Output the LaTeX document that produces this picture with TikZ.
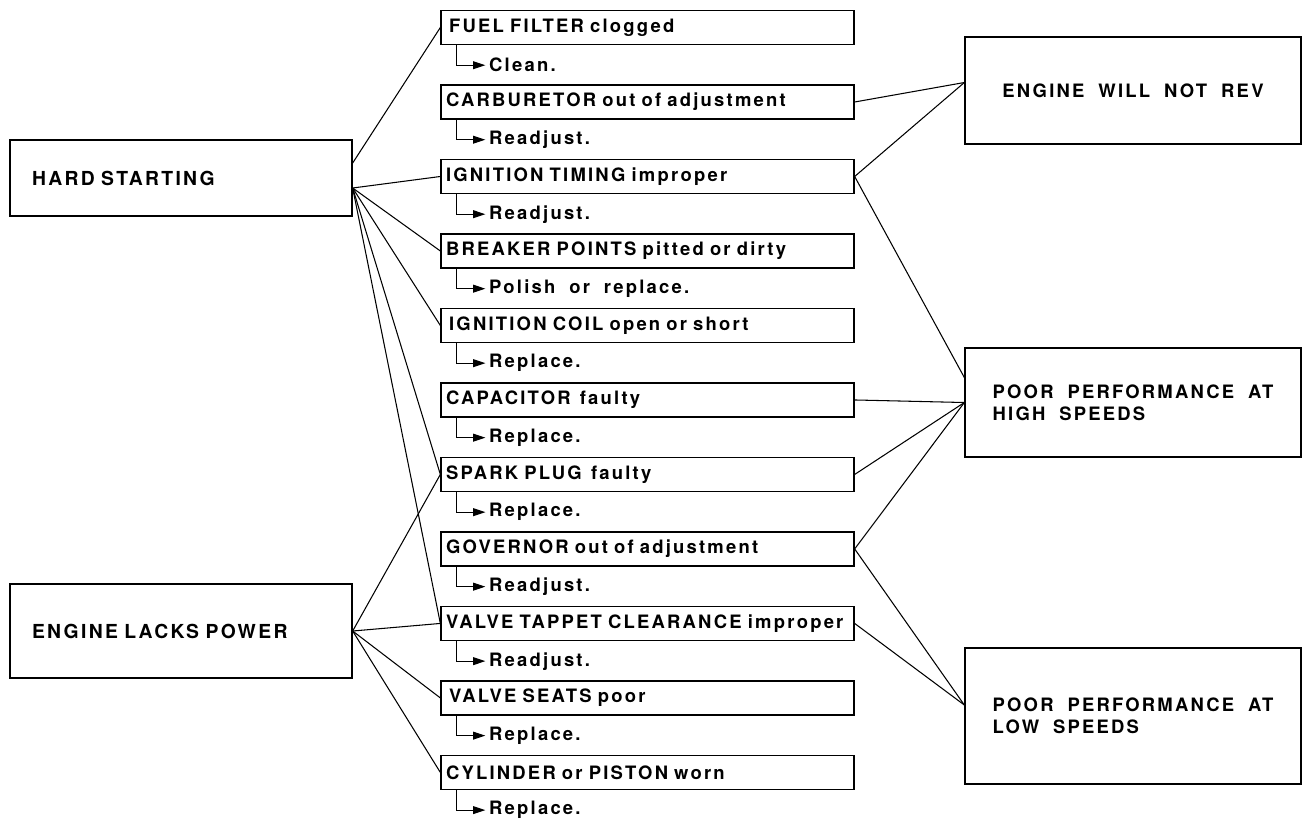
\documentclass[tikz,border=0pt]{standalone}
\usepackage{fontspec}
\setmainfont{TeX Gyre Heros}[LetterSpace=12,WordSpace=1.9]
\usetikzlibrary{arrows.meta,positioning}
\tikzset{
  symptom/.style={draw, line width=0.8pt, inner xsep=0.44cm, text width=5.96cm, align=left, font=\fontsize{11}{13}\selectfont\bfseries},
  fault/.style={draw, line width=0.8pt, minimum width=8.26cm, minimum height=0.68cm, inner xsep=0.1cm, inner ysep=0pt, text width=8.06cm, align=left, font=\fontsize{10.5}{12}\selectfont\bfseries},
  effect/.style={draw, line width=0.8pt, minimum width=6.72cm, align=left, font=\fontsize{10.5}{12.5}\selectfont\bfseries},
  fix/.style={inner xsep=2pt, inner ysep=1pt, font=\fontsize{10.5}{12}\selectfont\bfseries},
  fixarr/.style={line width=0.6pt, -{Triangle[length=7pt,width=4.5pt]}},
  link/.style={line width=0.6pt}
}

\begin{document}
\begin{tikzpicture}[x=0.02cm, y=-0.02cm, node distance=0.782cm]
\useasboundingbox (0,0) rectangle (1307,823);

% complaints
\node[symptom, minimum height=1.52cm] (hard) at (181,178) {HARD STARTING};
\node[symptom, minimum height=1.88cm] (lacks) at (181,631) {ENGINE LACKS POWER};

% causes
\node[fault] (filter) at (647.5,27.5) {\,FUEL FILTER clogged};
\node[fault, below=of filter] (carb) {CARBURETOR out of adjustment};
\node[fault, below=of carb] (timing) {IGNITION TIMING improper};
\node[fault, below=of timing] (points) {BREAKER POINTS pitted or dirty};
\node[fault, below=of points] (coil) {\,IGNITION COIL open or short};
\node[fault, below=of coil] (capac) {CAPACITOR\, faulty};
\node[fault, below=of capac] (plug) {SPARK PLUG\, faulty};
\node[fault, below=of plug] (gov) {GOVERNOR out of adjustment};
\node[fault, below=of gov] (tappet) {VALVE TAPPET CLEARANCE improper};
\node[fault, below=of tappet] (seats) {\,VALVE SEATS poor};
\node[fault, below=of seats] (cyl) {CYLINDER or PISTON worn};

% remedies
\node[fix, anchor=west] (filterfix) at ([shift={(45,20)}]filter.south west) {Clean.};
\node[fix, anchor=west] (carbfix) at ([shift={(45,20)}]carb.south west) {Readjust.};
\node[fix, anchor=west] (timingfix) at ([shift={(45,20)}]timing.south west) {Readjust.};
\node[fix, anchor=west] (pointsfix) at ([shift={(45,20)}]points.south west) {Polish or replace.};
\node[fix, anchor=west] (coilfix) at ([shift={(45,20)}]coil.south west) {Replace.};
\node[fix, anchor=west] (capacfix) at ([shift={(45,20)}]capac.south west) {Replace.};
\node[fix, anchor=west] (plugfix) at ([shift={(45,20)}]plug.south west) {Replace.};
\node[fix, anchor=west] (govfix) at ([shift={(45,20)}]gov.south west) {Readjust.};
\node[fix, anchor=west] (tappetfix) at ([shift={(45,20)}]tappet.south west) {Readjust.};
\node[fix, anchor=west] (seatsfix) at ([shift={(45,20)}]seats.south west) {Replace.};
\node[fix, anchor=west] (cylfix) at ([shift={(45,20)}]cyl.south west) {Replace.};

\draw[fixarr] ([xshift=0.32cm]filter.south west) |- (filterfix.west);
\draw[fixarr] ([xshift=0.32cm]carb.south west) |- (carbfix.west);
\draw[fixarr] ([xshift=0.32cm]timing.south west) |- (timingfix.west);
\draw[fixarr] ([xshift=0.32cm]points.south west) |- (pointsfix.west);
\draw[fixarr] ([xshift=0.32cm]coil.south west) |- (coilfix.west);
\draw[fixarr] ([xshift=0.32cm]capac.south west) |- (capacfix.west);
\draw[fixarr] ([xshift=0.32cm]plug.south west) |- (plugfix.west);
\draw[fixarr] ([xshift=0.32cm]gov.south west) |- (govfix.west);
\draw[fixarr] ([xshift=0.32cm]tappet.south west) |- (tappetfix.west);
\draw[fixarr] ([xshift=0.32cm]seats.south west) |- (seatsfix.west);
\draw[fixarr] ([xshift=0.32cm]cyl.south west) |- (cylfix.west);

% results
\node[effect, minimum height=2.14cm] (norev) at (1133,90.5) {ENGINE WILL NOT REV};
\node[effect, minimum height=2.18cm] (high) at (1133,402.5) {POOR PERFORMANCE AT\\HIGH SPEEDS};
\node[effect, minimum height=2.72cm] (low) at (1133,716) {POOR PERFORMANCE AT\\LOW SPEEDS};

% hubs
\coordinate (hardtop) at ([yshift=0.3cm]hard.east);
\coordinate (hardhub) at ([yshift=-0.2cm]hard.east);
\coordinate (norevin) at ([yshift=0.16cm]norev.west);
\coordinate (highin) at ([yshift=0.5cm]high.west);
\coordinate (lowin) at ([yshift=0.22cm]low.west);

\draw[link] (hardtop) -- (filter.west);
\draw[link] (hardhub) -- (timing.west);
\draw[link] (hardhub) -- (points.west);
\draw[link] (hardhub) -- (coil.west);
\draw[link] (hardhub) -- (plug.west);
\draw[link] (hardhub) -- (tappet.west);

\draw[link] (lacks.east) -- (plug.west);
\draw[link] (lacks.east) -- (tappet.west);
\draw[link] (lacks.east) -- (seats.west);
\draw[link] (lacks.east) -- (cyl.west);

\draw[link] (carb.east) -- (norevin);
\draw[link] (timing.east) -- (norevin);
\draw[link] (timing.east) -- (highin);
\draw[link] (capac.east) -- (high.west);
\draw[link] (plug.east) -- (high.west);
\draw[link] (gov.east) -- (high.west);
\draw[link] (gov.east) -- (lowin);
\draw[link] (tappet.east) -- (lowin);
\end{tikzpicture}
\end{document}
